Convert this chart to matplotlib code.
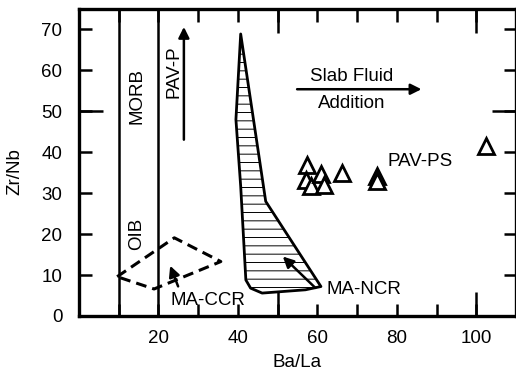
import matplotlib.pyplot as plt

plt.rcParams['font.family'] = ['Liberation Sans', 'DejaVu Sans']
plt.rcParams['hatch.linewidth'] = 0.7

# MA-NCR field (hatched polygon)
ncr_x = [40.7, 47.0, 60.9, 57.0, 46.1, 43.2, 42.0, 40.7, 39.5]
ncr_y = [68.9, 28.0, 7.2, 6.4, 5.6, 6.8, 8.8, 31.7, 48.0]

# MA-CCR field (dashed diamond)
ccr_x = [9.6, 24.0, 35.7, 18.9, 9.6]
ccr_y = [9.6, 19.1, 13.3, 6.6, 9.6]

# PAV-PS samples
pav_ps_x = [57.5, 57.1, 58.4, 60.9, 61.7, 66.3, 75.1, 75.1, 102.4]
pav_ps_y = [37.0, 33.3, 31.7, 34.6, 32.1, 35.0, 34.1, 32.9, 41.5]

# MORB / OIB boundary lines
bound_x = [10, 20]

fig = plt.figure(figsize=(5.16, 3.77), dpi=100)
ax = fig.add_axes([79 / 516, 1 - 316 / 377, 437 / 516, 307 / 377])
ax.set_xlim(0, 110)
ax.set_ylim(0, 75)

fs = 13.5

for bx in bound_x:
    ax.axvline(bx, color='black', lw=1.8)

ax.fill(ncr_x, ncr_y, facecolor='white', edgecolor='black', lw=2.0,
        hatch='--', joinstyle='round')

ax.plot(ccr_x, ccr_y, color='black', lw=2.2, linestyle=(0, (3.5, 2)))

ax.plot(pav_ps_x, pav_ps_y, linestyle='none', marker='^', ms=11,
        mfc='white', mec='black', mew=2.0)

arrow = dict(arrowstyle='-|>', lw=1.8, color='black', mutation_scale=16)
ax.annotate('', xy=(26.4, 71.3), xytext=(26.4, 42.4), arrowprops=arrow)
ax.annotate('', xy=(86.9, 55.4), xytext=(54.2, 55.4), arrowprops=arrow)
ax.annotate('', xy=(50.8, 15.0), xytext=(60.0, 6.4), arrowprops=arrow)
ax.annotate('', xy=(22.7, 12.9), xytext=(25.2, 6.6), arrowprops=arrow)

ax.text(14.6, 53.7, 'MORB', rotation=90, ha='center', va='center', fontsize=fs)
ax.text(14.6, 20.1, 'OIB', rotation=90, ha='center', va='center', fontsize=fs)
ax.text(24.0, 59.8, 'PAV-P', rotation=90, ha='center', va='center', fontsize=fs)
ax.text(68.5, 58.4, 'Slab Fluid', ha='center', va='center', fontsize=fs)
ax.text(68.7, 52.0, 'Addition', ha='center', va='center', fontsize=fs)
ax.text(77.6, 37.8, 'PAV-PS', ha='left', va='center', fontsize=fs)
ax.text(62.2, 6.4, 'MA-NCR', ha='left', va='center', fontsize=fs)
ax.text(23.1, 3.9, 'MA-CCR', ha='left', va='center', fontsize=fs)

ax.set_xticks(range(0, 111, 10))
ax.set_xticklabels(['' if v % 20 or v == 0 else str(v) for v in range(0, 111, 10)])
ax.set_yticks(range(0, 71, 10))
ax.set_xticks([50, 100], minor=True)
ax.set_yticks([50], minor=True)
ax.xaxis.remove_overlapping_locs = False
ax.yaxis.remove_overlapping_locs = False
ax.tick_params(which='both', direction='in', top=True, right=True,
               width=1.8, labelsize=fs)
ax.tick_params(which='major', length=9)
ax.tick_params(which='minor', length=17)
ax.tick_params(axis='y', which='major', pad=12)
ax.tick_params(axis='x', which='major', pad=10)

for s in ax.spines.values():
    s.set_linewidth(2.4)

ax.set_xlabel('Ba/La', fontsize=fs)
ax.set_ylabel('Zr/Nb', fontsize=fs)
ax.xaxis.set_label_coords(0.5, -0.125)
ax.yaxis.set_label_coords(-0.128, 0.47)

fig.savefig('out.png', dpi=100)
